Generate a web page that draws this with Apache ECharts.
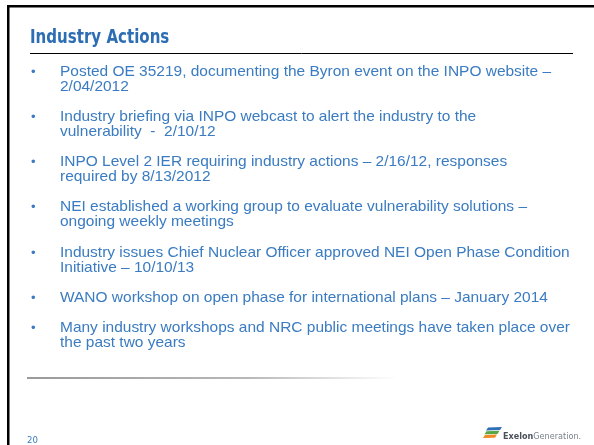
<!DOCTYPE html>
<html><head><meta charset="utf-8">
<script src="https://cdn.jsdelivr.net/npm/echarts@6/dist/echarts.min.js"></script>
<style>html,body{margin:0;padding:0;background:#fff}#c{width:594px;height:445px}</style>
</head><body><div id="c"></div>
<script>
const titleText = 'Industry Actions';
const bulletItems = [
  'Posted OE 35219, documenting the Byron event on the INPO website –\n2/04/2012',
  'Industry briefing via INPO webcast to alert the industry to the\nvulnerability  -  2/10/12',
  'INPO Level 2 IER requiring industry actions – 2/16/12, responses\nrequired by 8/13/2012',
  'NEI established a working group to evaluate vulnerability solutions –\nongoing weekly meetings',
  'Industry issues Chief Nuclear Officer approved NEI Open Phase Condition\nInitiative – 10/10/13',
  'WANO workshop on open phase for international plans – January 2014',
  'Many industry workshops and NRC public meetings have taken place over\nthe past two years'
];
const pageNumber = '20';
const logoBold = 'Exelon';
const logoLight = 'Generation.';

const FONT = '"DejaVu Sans Condensed", "Liberation Sans", sans-serif';
const BODY_FONT = '"Liberation Sans", Arial, sans-serif';
const TEXT_COLOR = '#3a7bc1';
const LH = 15;
const GAP = 15.3;

const graphics = [];
graphics.push({type:'rect', shape:{x:7, y:5, width:587, height:2.5}, style:{fill:'#000'}});
graphics.push({type:'rect', shape:{x:7, y:5, width:2.5, height:440}, style:{fill:'#000'}});
graphics.push({type:'text', x:30, y:48, scaleX:0.88, style:{text:titleText, font:'bold 19px ' + FONT, fill:'#2c6db3', textVerticalAlign:'bottom'}});
graphics.push({type:'line', shape:{x1:30, y1:53.5, x2:573, y2:53.5}, style:{stroke:'#000', lineWidth:1}});
let y = 64;
bulletItems.forEach(t => {
  const n = t.split('\n').length;
  graphics.push({type:'text', x:31, y:y + 0.5, style:{text:'•', font:'13px ' + BODY_FONT, fill:TEXT_COLOR, lineHeight:LH}});
  graphics.push({type:'text', x:60, y:y, scaleX:1.067, style:{text:t, font:'14.5px ' + BODY_FONT, fill:TEXT_COLOR, lineHeight:LH}});
  y += n*LH + GAP;
});
graphics.push({type:'rect', shape:{x:27, y:377, width:370, height:2},
  style:{fill:new echarts.graphic.LinearGradient(0,0,1,0,[{offset:0,color:'#9a9a9a'},{offset:0.6,color:'#b8b8b8'},{offset:1,color:'#ffffff'}])}});
graphics.push({type:'text', x:27, y:441, style:{text:pageNumber, font:'9.5px ' + FONT, fill:TEXT_COLOR, textVerticalAlign:'middle'}});
const stripes = [
  {c:'#2f6fb5', y:427.5, x0:486, x1:502},
  {c:'#57a845', y:431.3, x0:484.5, x1:499.5},
  {c:'#f08a24', y:435.1, x0:483, x1:497}
];
stripes.forEach(s => {
  graphics.push({type:'polygon', shape:{points:[[s.x0+2,s.y],[s.x1,s.y-0.6],[s.x1-2,s.y+2.6],[s.x0,s.y+3]]}, style:{fill:s.c}});
});
graphics.push({type:'text', x:503, y:436.5, style:{
  text:'{b|' + logoBold + '}{l|' + logoLight + '}', textVerticalAlign:'middle',
  rich:{b:{font:'bold 9px ' + FONT, fill:'#4a4f5a'}, l:{font:'9px ' + FONT, fill:'#7a7f88'}}}});

const chart = echarts.init(document.getElementById('c'), null, {renderer:'canvas'});
chart.setOption({backgroundColor:'#fff', animation:false, graphic:{elements:graphics}});
</script></body></html>
